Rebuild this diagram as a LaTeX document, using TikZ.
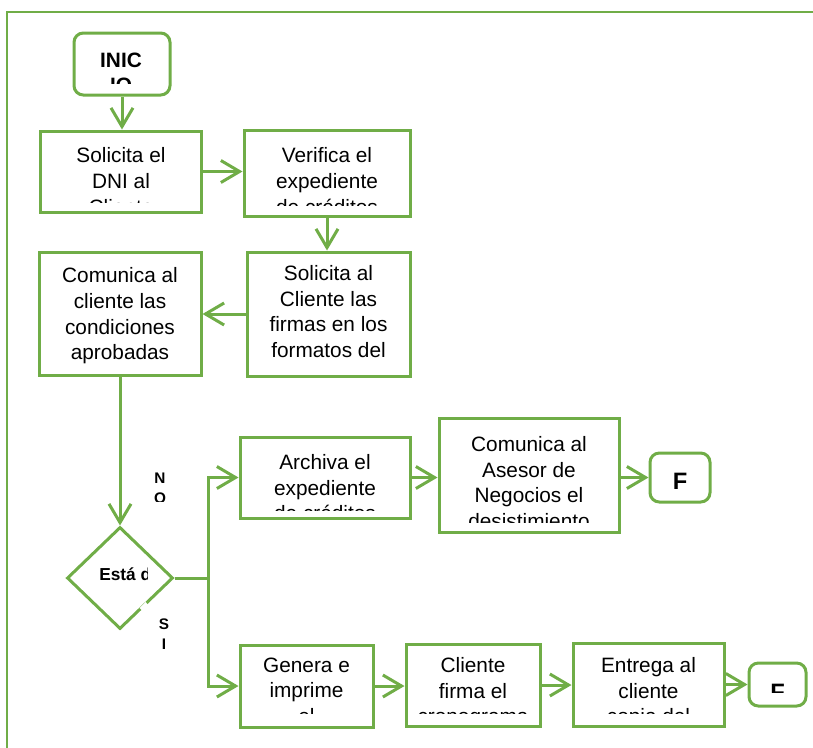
\documentclass[tikz,border=0pt]{standalone}
\usepackage{fontspec}
\setmainfont{Liberation Sans}
\usetikzlibrary{arrows.meta,fit,shapes.geometric}
\definecolor{flow}{HTML}{70AD47}

\begin{document}
\begin{tikzpicture}[x=0.75pt,y=-0.75pt,
  box/.style={draw=flow,line width=2.25pt,inner sep=0pt},
  term/.style={box,rounded corners=7pt},
  lbl/.style={anchor=north,inner sep=0pt,align=center,
    font=\fontsize{15.6}{19.2}\selectfont,execute at begin node=\strut},
  blbl/.style={lbl,font=\fontsize{15.6}{19.2}\selectfont\bfseries},
  flbl/.style={anchor=base,inner sep=0pt,font=\fontsize{17.8}{21}\selectfont\bfseries},
  tag/.style={anchor=north,inner sep=0pt,align=center,
    font=\fontsize{11.5}{15}\selectfont\bfseries,execute at begin node=\strut},
  link/.style={draw=flow,line width=2.25pt},
  arr/.style={link,-{Straight Barb[length=14pt,width=16.5pt]}},
  frame/.style={draw=flow,line width=2pt}
]
\useasboundingbox (0,0) rectangle (813,747);

% outer frame running off the page
\draw[frame] (7,780) |- (840,12);

% ---- boxes ----
\node[term,fit={(74,33) (170,95)}] (ini) {};
\node[box,fit={(40,131) (201,212)}] (dni) {};
\node[box,fit={(244,130) (410,216)}] (ver) {};
\node[box,fit={(247,252) (410,376)}] (fir) {};
\node[box,fit={(39,252) (201,375)}] (com) {};
\node[box,diamond,minimum width=79.5pt,minimum height=76.5pt] (dec) at (120,578) {};
\node[box,fit={(240,437) (410,518)}] (arc) {};
\node[box,fit={(439,418) (619,532)}] (ase) {};
\node[term,fit={(650,453) (710,502)}] (fin1) {};
\node[box,fit={(240,645) (373,727)}] (gen) {};
\node[box,fit={(406,644) (540,726)}] (cli) {};
\node[box,fit={(573,643) (724,726)}] (ent) {};
\node[term,fit={(749,663) (806,706)}] (fin2) {};

% ---- texts, cut off by their text frames ----
\begin{scope}
  \clip (80,40) rectangle (164,83);
  \node[blbl] (tini) at (121,52.3) {INIC\\IO};
\end{scope}
\begin{scope}
  \clip (46,137) rectangle (195,202);
  \node[lbl] (tdni) at (121,147.5) {Solicita el\\DNI al\\Cliente};
\end{scope}
\begin{scope}
  \clip (250,136) rectangle (404,205);
  \node[lbl] (tver) at (327,147.5) {Verifica el\\expediente\\de créditos};
\end{scope}
\begin{scope}
  \clip (253,258) rectangle (404,365);
  \node[lbl] (tfir) at (328.5,265.3) {Solicita al\\Cliente las\\firmas en los\\formatos del};
\end{scope}
\node[lbl] (tcom) at (120,267.5) {Comunica al\\cliente las\\condiciones\\aprobadas};
\begin{scope}
  \clip (92,558) rectangle (147,590);
  \node[anchor=base west,inner sep=0pt,font=\fontsize{13}{16}\selectfont\bfseries] (tdec) at (99,580) {Está de};
\end{scope}
\begin{scope}
  \clip (246,443) rectangle (404,510);
  \node[lbl] (tarc) at (325,454.3) {Archiva el\\expediente\\de créditos};
\end{scope}
\begin{scope}
  \clip (445,424) rectangle (613,522);
  \node[lbl] (tase) at (529,436.3) {Comunica al\\Asesor de\\Negocios el\\desistimiento};
\end{scope}
\node[flbl] (tf1) at (680,489) {F};
\begin{scope}
  \clip (246,651) rectangle (367,713);
  \node[lbl] (tgen) at (306.5,657.3) {Genera e\\imprime\\el};
\end{scope}
\begin{scope}
  \clip (412,650) rectangle (534,713);
  \node[lbl] (tcli) at (473,657.3) {Cliente\\firma el\\cronograma};
\end{scope}
\begin{scope}
  \clip (579,649) rectangle (718,713);
  \node[lbl] (tent) at (648.5,657.3) {Entrega al\\cliente\\copia del};
\end{scope}
\begin{scope}
  \clip (755,669) rectangle (800,692);
  \node[flbl] (tf2) at (777.5,700) {F};
\end{scope}

% branch labels
\begin{scope}
  \clip (150,470) rectangle (172,501);
  \node[tag] (tno) at (160,473) {N\\O};
\end{scope}
\node[tag] (tsi) at (164,619) {S\\I};

% gap left in the decision outline by its text frame
\draw[white,line width=3pt] (147,603.5) -- (141,609.4);

% ---- connectors ----
\coordinate (jn) at (208,578);
\draw[arr] (ini.south) -- (ini.south |- dni.north);
\draw[arr] (dni.east) -- (dni.east -| ver.west);
\draw[arr] (ver.south) -- (ver.south |- fir.north);
\draw[arr] (fir.west) -- (fir.west -| com.east);
\draw[arr] (com.south) -- (com.south |- dec.north);
\draw[link] (dec.east) -- (jn);
\draw[arr] (jn) |- (arc.west);
\draw[arr] (jn) |- (gen.west);
\draw[arr] (arc.east) -- (arc.east -| ase.west);
\draw[arr] (fin1.west -| ase.east) -- (fin1.west);
\draw[arr] (gen.east) -- (gen.east -| cli.west);
\draw[arr] (cli.east) -- (cli.east -| ent.west);
\draw[arr] (fin2.west -| ent.east) -- (fin2.west);
\end{tikzpicture}
\end{document}
